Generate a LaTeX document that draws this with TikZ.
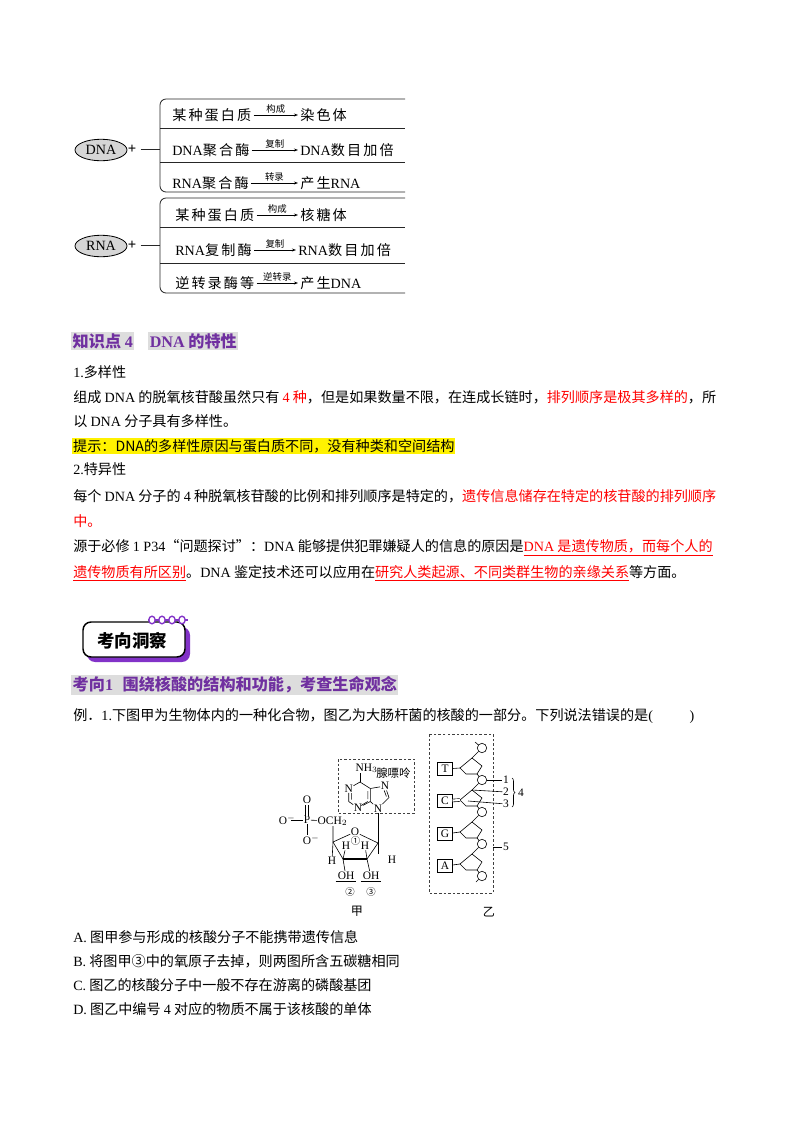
\documentclass[tikz,border=0pt]{standalone}
\usepackage{fontspec}
\setmainfont{Noto Sans CJK SC}
\newfontfamily\latin{Liberation Serif}
\newfontfamily\cjkwide[LetterSpace=15]{Noto Sans CJK SC}
\usetikzlibrary{arrows.meta,shapes.geometric,positioning,decorations.pathreplacing}
\newcommand\Lat[1]{{\latin #1}}
\definecolor{headpurple}{RGB}{112,48,160}
\definecolor{hlgray}{RGB}{221,221,221}
\definecolor{badgepurple}{RGB}{130,50,200}
\definecolor{ellgray}{RGB}{214,214,214}
\tikzset{
  body/.style={anchor=west,inner sep=0pt,font=\fontsize{10.5}{12}\selectfont},
  head/.style={anchor=west,inner sep=1.1pt,fill=hlgray,text=headpurple,font=\fontsize{12}{14}\selectfont\bfseries},
  rowtxt/.style={anchor=west,inner xsep=1.5pt,inner ysep=0pt,font=\fontsize{10.5}{12}\cjkwide},
  arr/.style={-{Stealth[length=3pt,width=2.2pt]},line width=0.45pt},
  arrlbl/.style={above=0.8pt,inner sep=0pt,font=\fontsize{7}{8}\selectfont},
  frame/.style={line width=0.6pt,draw=black!85},
  chem/.style={inner sep=0.3pt,font=\fontsize{8.5}{10}\latin},
  cnum/.style={inner sep=0pt,font=\fontsize{7}{8}\selectfont},
  bond/.style={line width=0.45pt},
  basebox/.style={draw,line width=0.45pt,minimum width=10.8pt,minimum height=9.3pt,inner sep=0pt,font=\fontsize{8.5}{10}\latin},
  phos/.style={circle,draw,line width=0.45pt,minimum size=7pt,inner sep=0pt},
  dashbox/.style={line width=0.45pt,draw=black!75,dash pattern=on 1.9pt off 1.5pt}
}
\begin{document}
\begin{tikzpicture}[x=0.7441pt,y=-0.7441pt]
	\useasboundingbox (0,0) rectangle (800,1132);
	\fill[white] (0,0) rectangle (800,1132);
	% DNA group
	\node[draw,ellipse,fill=ellgray,line width=0.6pt,minimum width=38.7pt,minimum height=16pt,inner sep=0pt,font=\fontsize{10.5}{12}\latin] (dna) at (101,150) {DNA};
	\node[inner sep=0pt,font=\fontsize{11}{12}\latin\bfseries] (dnaplus) at (132,149) {+};
	\coordinate (dnabr) at (160,149);
	\draw[frame,shorten <=3pt] (dnaplus) -- (dnabr);
	\draw[frame,rounded corners=4.5pt] (405,99) -- (160,99) -- (160,192) -- (405,192);
	\draw[frame] (160,128) -- (405,128) (160,162) -- (405,162);
	\node[rowtxt] (dsrc1) at (170,115) {某种蛋白质};
	\node[rowtxt] (dtgt1) at (298,115) {染色体};
	\node[rowtxt] (dsrc2) at (170,150) {\Lat{DNA}聚合酶};
	\node[rowtxt] (dtgt2) at (298,150) {\Lat{DNA}数目加倍};
	\node[rowtxt] (dsrc3) at (170,183) {\Lat{RNA}聚合酶};
	\node[rowtxt] (dtgt3) at (298,183) {产生\Lat{RNA}};
	\draw[arr] (dsrc1) -- node[arrlbl] {构成} (dtgt1);
	\draw[arr] (dsrc2) -- node[arrlbl] {复制} (dtgt2);
	\draw[arr] (dsrc3) -- node[arrlbl] {转录} (dtgt3);
	% RNA group
	\node[draw,ellipse,fill=ellgray,line width=0.6pt,minimum width=38.7pt,minimum height=16pt,inner sep=0pt,font=\fontsize{10.5}{12}\latin] (rna) at (101,246) {RNA};
	\node[inner sep=0pt,font=\fontsize{11}{12}\latin\bfseries] (rnaplus) at (132,245) {+};
	\coordinate (rnabr) at (160,245);
	\draw[frame,shorten <=3pt] (rnaplus) -- (rnabr);
	\draw[frame,rounded corners=4.5pt] (405,198) -- (160,198) -- (160,293) -- (405,293);
	\draw[frame] (160,227) -- (405,227) (160,263) -- (405,263);
	\node[rowtxt] (rsrc1) at (173,215) {某种蛋白质};
	\node[rowtxt] (rtgt1) at (298,215) {核糖体};
	\node[rowtxt] (rsrc2) at (173,250) {\Lat{RNA}复制酶};
	\node[rowtxt] (rtgt2) at (296,250) {\Lat{RNA}数目加倍};
	\node[rowtxt] (rsrc3) at (173,283) {逆转录酶等};
	\node[rowtxt] (rtgt3) at (298,283) {产生\Lat{DNA}};
	\draw[arr] (rsrc1) -- node[arrlbl] {构成} (rtgt1);
	\draw[arr] (rsrc2) -- node[arrlbl] {复制} (rtgt2);
	\draw[arr] (rsrc3) -- node[arrlbl] {逆转录} (rtgt3);
	% knowledge point 4
	\node[head] (kp4a) at (71,341) {知识点 \Lat{4}};
	\node[head,right=10pt of kp4a] (kp4b) {\Lat{DNA} 的特性};
	\node[body] (l1) at (73,372) {\Lat{1.}多样性};
	\node[body] (l2) at (73,397) {组成 \Lat{DNA} 的脱氧核苷酸虽然只有 \textcolor{red}{\Lat{4} 种}，但是如果数量不限，在连成长链时，\textcolor{red}{排列顺序是极其多样的}，所};
	\node[body] (l3) at (73,421) {以 \Lat{DNA} 分子具有多样性。};
	\node[body,fill=yellow,inner sep=0.7pt] (tip) at (72,446) {提示：DNA的多样性原因与蛋白质不同，没有种类和空间结构};
	\node[body] (l4) at (73,469) {\Lat{2.}特异性};
	\node[body] (l5) at (73,496) {每个 \Lat{DNA} 分子的 \Lat{4} 种脱氧核苷酸的比例和排列顺序是特定的，\textcolor{red}{遗传信息储存在特定的核苷酸的排列顺序}};
	\node[body] (l6) at (73,521) {\textcolor{red}{中。}};
	\node[body] (l7) at (73,548) {源于必修 \Lat{1 P34}“问题探讨”：\Lat{DNA} 能够提供犯罪嫌疑人的信息的原因是\textcolor{red}{\underline{\Lat{DNA} 是遗传物质，而每个人的}}};
	\node[body] (l8) at (73,573) {\textcolor{red}{\underline{遗传物质有所区别}}。\Lat{DNA} 鉴定技术还可以应用在\textcolor{red}{\underline{研究人类起源、不同类群生物的亲缘关系}}等方面。};
	% badge
	\fill[badgepurple,rounded corners=6pt] (87,627) rectangle (190,662);
	\draw[line width=1.1pt,fill=white,rounded corners=6pt] (83,622) rectangle (185,657);
	\draw[badgepurple,line width=1pt] (148,620) -- (188,620);
	\draw[badgepurple,line width=1pt,fill=white] (152,620) ellipse (3.2 and 3.8) (162,620) ellipse (3.2 and 3.8) (172,620) ellipse (3.2 and 3.8) (182,620) ellipse (3.2 and 3.8);
	\node[inner sep=0pt,font=\fontsize{13}{15}\selectfont\bfseries] (badge) at (132,641) {考向洞察};
	\node[head] (kx1) at (71,685) {考向\Lat{1}\hspace{0.6em}围绕核酸的结构和功能，考查生命观念};
	\node[body] (q1) at (73,716) {例．\Lat{1.}下图甲为生物体内的一种化合物，图乙为大肠杆菌的核酸的一部分。下列说法错误的是\Lat{(\hspace{2.6em})}};
	% figure jia: phosphate
	\node[chem] (om1) at (283,820) {O\rlap{$^{-}$}};
	\node[chem] (pp) at (307,820) {P};
	\node[chem] (otop) at (307,800) {O};
	\node[chem] (om2) at (307,840) {O\rlap{$^{-}$}};
	\node[chem,anchor=west] (och) at (317,821) {OCH$_2$};
	\draw[bond,shorten <=2.2pt] (om1) -- (pp);
	\draw[bond] (pp) -- (och);
	\draw[bond,double,double distance=1.6pt] (pp) -- (otop);
	\draw[bond] (pp) -- (om2);
	% sugar
	\node[chem] (oring) at (355,832) {O};
	\coordinate (ch2) at (333,826);
	\coordinate (c4) at (333,842);
	\coordinate (c3) at (343,859);
	\coordinate (c2) at (367,859);
	\coordinate (c1) at (378,843);
	\coordinate (c1d) at (378,854);
	\node[chem] (h4) at (332,861) {H};
	\node[chem] (h1) at (392,860) {H};
	\node[chem] (h3) at (346,846) {H};
	\node[chem] (h2) at (365,846) {H};
	\node[cnum] (n1) at (355.5,841) {①};
	\node[chem] (oh3) at (346,877) {\underline{\hspace{1.5pt}OH\hspace{1.5pt}}};
	\node[chem] (oh2) at (371,877) {\underline{\hspace{1.5pt}OH\hspace{1.5pt}}};
	\node[cnum] (n2) at (350,892) {②};
	\node[cnum] (n3) at (371,892) {③};
	\draw[bond] (ch2) -- (c4) -- (h4);
	\draw[bond] (c4) -- (oring) -- (c1);
	\draw[bond] (c4) -- (c3);
	\draw[bond] (c1) -- (c2);
	\draw[line width=1.5pt] (c3) -- (c2);
	\draw[bond] (c1) -- (c1d);
	\draw[bond] (c3) -- (h3);
	\draw[bond] (c2) -- (h2);
	\draw[bond] (c3) -- (oh3);
	\draw[bond] (c2) -- (oh2);
	% adenine
	\draw[dashbox] (338,759) rectangle (414,813);
	\node[chem,anchor=west] (nh) at (355,768) {NH$_3$};
	\node[anchor=west,inner sep=0pt,font=\fontsize{8.5}{10}\selectfont] (xpl) at (376,773) {腺嘌呤};
	\coordinate (c6) at (360,782);
	\node[chem] (na1) at (348.7,788.5) {N};
	\coordinate (ca2) at (348.7,801.5);
	\node[chem] (na3) at (358,808) {N};
	\coordinate (ca4) at (370.3,801.5);
	\coordinate (ca5) at (370.3,788.5);
	\node[chem] (na7) at (385,786) {N};
	\coordinate (ca8) at (389,797.5);
	\node[chem] (na9) at (378,808.5) {N};
	\draw[bond] (c6) -- (c6 |- nh.south);
	\draw[bond] (c6) -- (na1) -- (ca2) -- (na3) -- (ca4) -- (ca5) -- (c6);
	\draw[bond] (ca5) -- (na7) -- (ca8) -- (na9) -- (ca4);
	\draw[bond] (351.3,793) -- (351.3,799.5) (367.8,791) -- (367.8,799) (384.2,790.5) -- (386.4,796.5) (361,805.5) -- (367.8,801.5);
	\draw[bond] (na9) -- (c1);
	% figure yi
	\draw[dashbox] (429,734) rectangle (493,893);
	\node[phos] (p1) at (482,748) {};
	\node[phos] (p2) at (482,780) {};
	\node[phos] (p3) at (482,812) {};
	\node[phos] (p4) at (482,844) {};
	\node[phos] (p5) at (482,876) {};
	\coordinate (t0) at (475,742);
	\coordinate (t5) at (476,882);
	\draw[bond] (t0) -- (p1);
	\draw[bond] (p5) -- (t5);
	\coordinate (s1a) at (472,758); \coordinate (s1b) at (482,766); \coordinate (s1c) at (477,774); \coordinate (s1d) at (466,774); \coordinate (s1e) at (460,768);
	\coordinate (s2a) at (472,790); \coordinate (s2b) at (482,798); \coordinate (s2c) at (477,806); \coordinate (s2d) at (466,806); \coordinate (s2e) at (460,800);
	\coordinate (s3a) at (472,822); \coordinate (s3b) at (482,830); \coordinate (s3c) at (477,838); \coordinate (s3d) at (466,838); \coordinate (s3e) at (460,832);
	\coordinate (s4a) at (472,854); \coordinate (s4b) at (482,862); \coordinate (s4c) at (477,870); \coordinate (s4d) at (466,870); \coordinate (s4e) at (460,864);
	\draw[bond] (s1a) -- (s1b) -- (s1c) -- (s1d) -- (s1e) -- cycle;
	\draw[bond] (s2a) -- (s2b) -- (s2c) -- (s2d) -- (s2e) -- cycle;
	\draw[bond] (s3a) -- (s3b) -- (s3c) -- (s3d) -- (s3e) -- cycle;
	\draw[bond] (s4a) -- (s4b) -- (s4c) -- (s4d) -- (s4e) -- cycle;
	\draw[bond] (p1) -- (s1a) (s1c) -- (p2) -- (s2a) (s2c) -- (p3) -- (s3a) (s3c) -- (p4) -- (s4a) (s4c) -- (p5);
	\node[basebox] (bt) at (445,769) {T};
	\node[basebox] (bc) at (445,801) {C};
	\node[basebox] (bg) at (445,834) {G};
	\node[basebox] (ba) at (445,866) {A};
	\draw[bond] (bt) -- (s1e);
	\draw[bond,double,double distance=1.6pt] (bc) -- (s2e);
	\draw[bond] (bg) -- (s3e);
	\draw[bond] (ba) -- (s4e);
	\node[chem] (lb1) at (506,780) {1};
	\node[chem] (lb2) at (506,792) {2};
	\node[chem] (lb3) at (506,804) {3};
	\node[chem] (lb4) at (521,793) {4};
	\node[chem] (lb5) at (506,847) {5};
	\coordinate (l3s) at (468,801);
	\coordinate (b5) at (493,847);
	\draw[bond] (p2) -- (lb1);
	\draw[bond] (s2a) -- (lb2);
	\draw[bond] (l3s) -- (lb3);
	\draw[bond] (b5) -- (lb5);
	\draw[bond,decorate,decoration={brace,amplitude=2.2pt}] (512,778) -- (512,807);
	\node[inner sep=0pt,font=\fontsize{9}{10}\selectfont] (jia) at (357,911) {甲};
	\node[inner sep=0pt,font=\fontsize{9}{10}\selectfont] (yi) at (489,912) {乙};
	% options
	\node[body] (oa) at (73,937) {\Lat{A.} 图甲参与形成的核酸分子不能携带遗传信息};
	\node[body] (ob) at (73,961) {\Lat{B.} 将图甲③中的氧原子去掉，则两图所含五碳糖相同};
	\node[body] (oc) at (73,985) {\Lat{C.} 图乙的核酸分子中一般不存在游离的磷酸基团};
	\node[body] (od) at (73,1009) {\Lat{D.} 图乙中编号 \Lat{4} 对应的物质不属于该核酸的单体};
\end{tikzpicture}
\end{document}
